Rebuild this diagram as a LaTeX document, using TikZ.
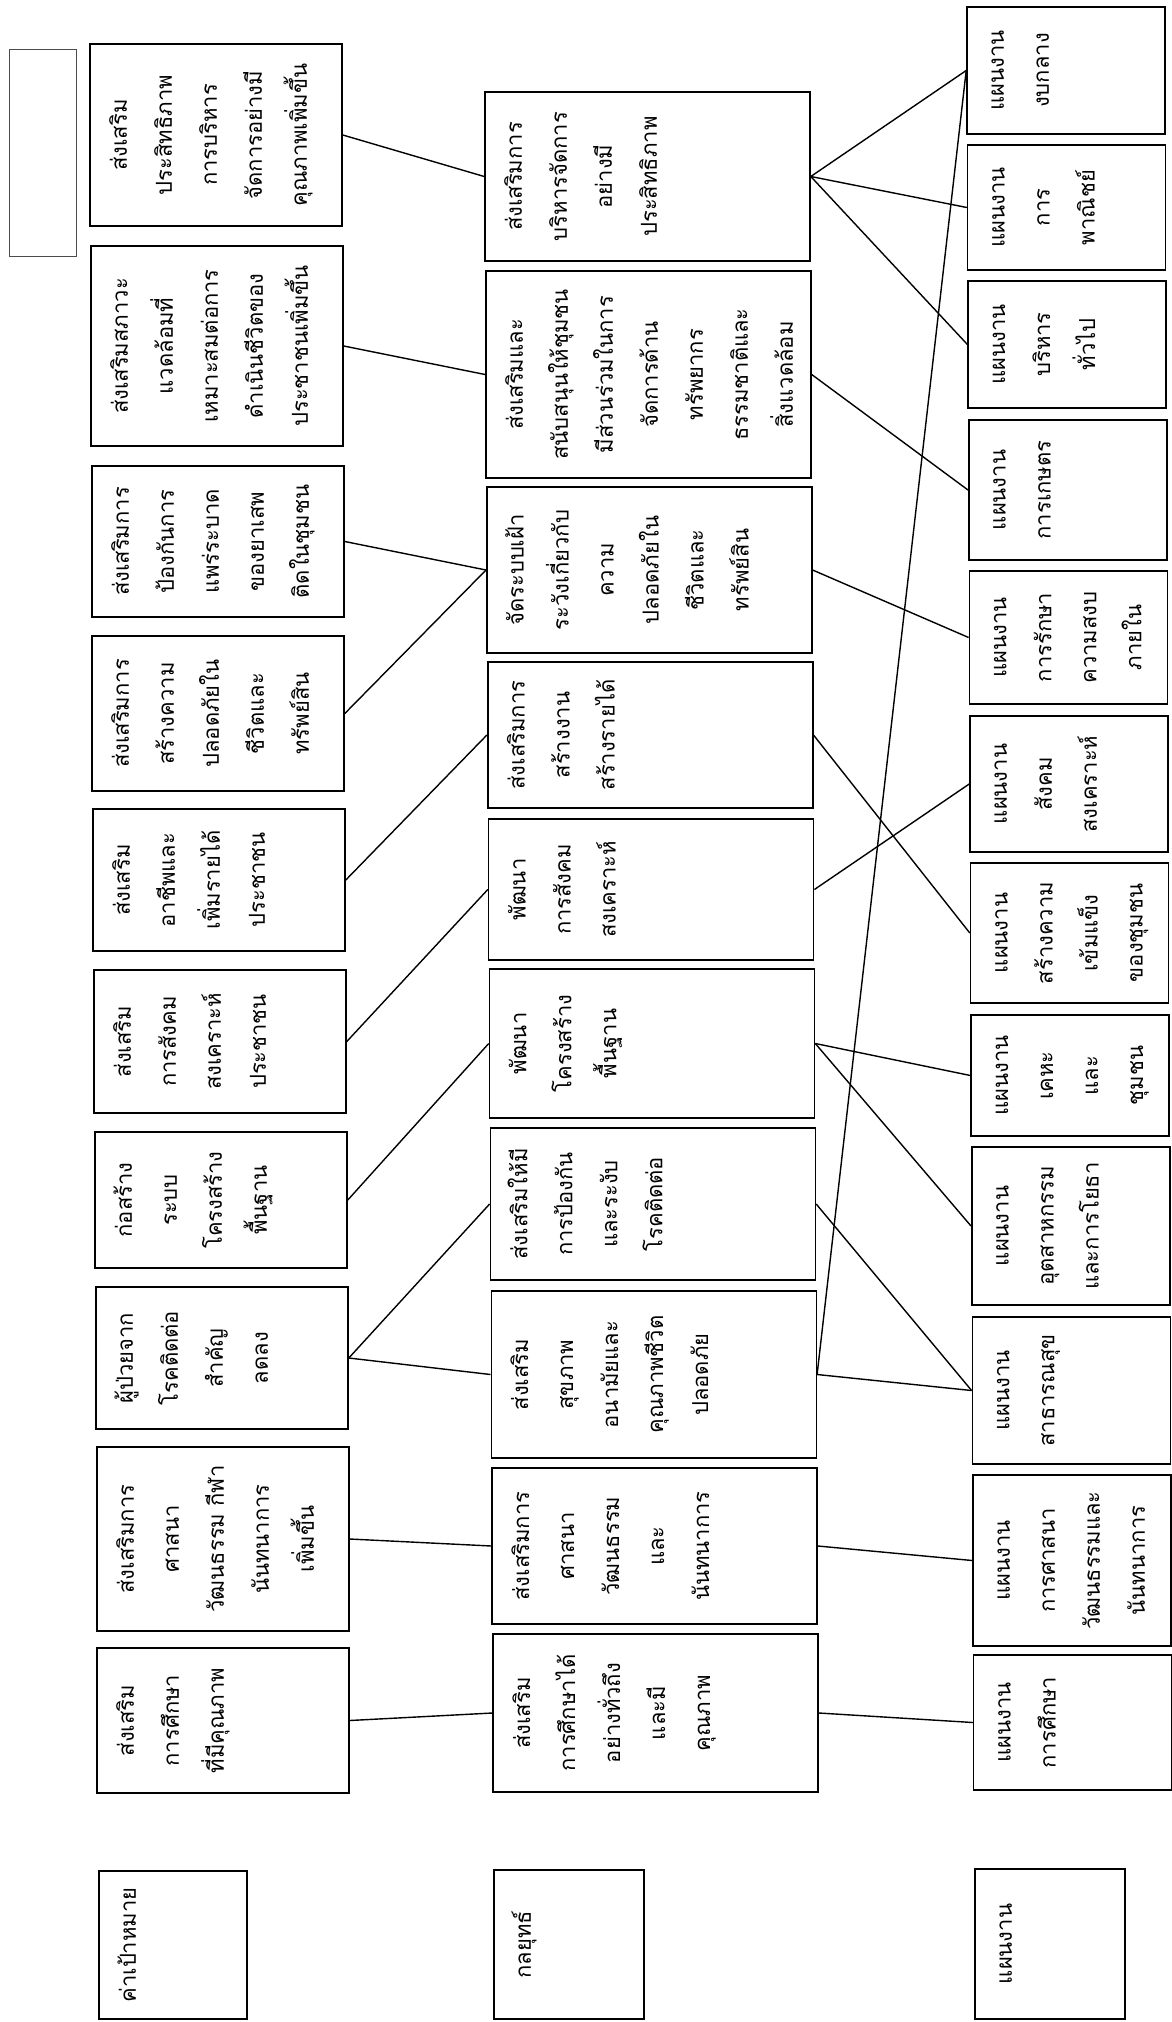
\documentclass[tikz,border=0pt]{standalone}
\usepackage{fontspec}
\newfontfamily\thai[Script=Thai]{Loma}
\tikzset{
  box/.style={draw=black, line width=1.6pt, inner sep=0pt, fill=none},
  txt/.style={rotate=90, anchor=north, text width=300pt, align=center, inner sep=0pt, font=\thai\fontsize{22}{45}\selectfont},
  conn/.style={line width=1.4pt, draw=black},
}
\newcommand\mkbox[5]{\node[box, minimum width=#4pt, minimum height=#5pt] (#1) at (#2,#3) {};}
\newcommand\boxtext[2]{\node[txt] at ([xshift=6pt]#1.west) {\strut #2};}
\begin{document}
\begin{tikzpicture}[x=1pt,y=-1pt]
\useasboundingbox (0,0) rectangle (1172,2022);
% empty box
\node[draw=black!70, line width=1pt, inner sep=0pt, minimum width=67pt, minimum height=207pt] (e0) at (42.5,152.5) {};
% targets
\mkbox{t1}{216}{135}{252}{182}
\mkbox{t2}{217}{346}{252}{200}
\mkbox{t3}{218}{541.5}{252}{151}
\mkbox{t4}{218}{713.5}{252}{155}
\mkbox{t5}{219}{880}{252}{142}
\mkbox{t6}{220}{1041.5}{252}{143}
\mkbox{t7}{221}{1200}{252}{136}
\mkbox{t8}{222}{1358}{252}{142}
\mkbox{t9}{223}{1539}{252}{184}
\mkbox{t10}{223}{1720.5}{252}{145}
% strategies
\mkbox{s1}{647.5}{176.5}{325}{169}
\mkbox{s2}{648.4}{374.5}{325}{207}
\mkbox{s3}{649.3}{570}{325}{166}
\mkbox{s4}{650.2}{735}{325}{146}
\mkbox{s5}{651.1}{889.5}{325}{141}
\mkbox{s6}{652}{1043.5}{325}{149}
\mkbox{s7}{652.9}{1204}{325}{152}
\mkbox{s8}{653.8}{1374.5}{325}{167}
\mkbox{s9}{654.7}{1546}{325}{156}
\mkbox{s10}{655.6}{1713}{325}{158}
% plans
\mkbox{p1}{1066}{70.5}{198}{127}
\mkbox{p2}{1066.6}{207.5}{198}{125}
\mkbox{p3}{1067.2}{344.5}{198}{127}
\mkbox{p4}{1067.8}{490}{198}{140}
\mkbox{p5}{1068.4}{637.5}{198}{133}
\mkbox{p6}{1069}{784}{198}{136}
\mkbox{p7}{1069.6}{933}{198}{140}
\mkbox{p8}{1070.2}{1075.5}{198}{121}
\mkbox{p9}{1070.8}{1226}{198}{158}
\mkbox{p10}{1071.4}{1390.5}{198}{147}
\mkbox{p11}{1072}{1560.5}{198}{171}
\mkbox{p12}{1072.6}{1722.5}{198}{135}
% labels
\mkbox{l1}{173}{1945}{148}{148}
\mkbox{l2}{569}{1944.5}{150}{149}
\mkbox{l3}{1050}{1944}{150}{150}
% texts
\boxtext{t1}{ส่งเสริม\\ประสิทธิภาพ\\การบริหาร\\จัดการอย่างมี\\คุณภาพเพิ่มขึ้น}
\boxtext{t2}{ส่งเสริมสภาวะ\\แวดล้อมที่\\เหมาะสมต่อการ\\ดำเนินชีวิตของ\\ประชาชนเพิ่มขึ้น}
\boxtext{t3}{ส่งเสริมการ\\ป้องกันการ\\แพร่ระบาด\\ของยาเสพ\\ติดในชุมชน}
\boxtext{t4}{ส่งเสริมการ\\สร้างความ\\ปลอดภัยใน\\ชีวิตและ\\ทรัพย์สิน}
\boxtext{t5}{ส่งเสริม\\อาชีพและ\\เพิ่มรายได้\\ประชาชน}
\boxtext{t6}{ส่งเสริม\\การสังคม\\สงเคราะห์\\ประชาชน}
\boxtext{t7}{ก่อสร้าง\\ระบบ\\โครงสร้าง\\พื้นฐาน}
\boxtext{t8}{ผู้ป่วยจาก\\โรคติดต่อ\\สำคัญ\\ลดลง}
\boxtext{t9}{ส่งเสริมการ\\ศาสนา\\วัฒนธรรม กีฬา\\นันทนาการ\\เพิ่มขึ้น}
\boxtext{t10}{ส่งเสริม\\การศึกษา\\ที่มีคุณภาพ}
\boxtext{s1}{ส่งเสริมการ\\บริหารจัดการ\\อย่างมี\\ประสิทธิภาพ}
\boxtext{s2}{ส่งเสริมและ\\สนับสนุนให้ชุมชน\\มีส่วนร่วมในการ\\จัดการด้าน\\ทรัพยากร\\ธรรมชาติและ\\สิ่งแวดล้อม}
\boxtext{s3}{จัดระบบเฝ้า\\ระวังเกี่ยวกับ\\ความ\\ปลอดภัยใน\\ชีวิตและ\\ทรัพย์สิน}
\boxtext{s4}{ส่งเสริมการ\\สร้างงาน\\สร้างรายได้}
\boxtext{s5}{พัฒนา\\การสังคม\\สงเคราะห์}
\boxtext{s6}{พัฒนา\\โครงสร้าง\\พื้นฐาน}
\boxtext{s7}{ส่งเสริมให้มี\\การป้องกัน\\และระงับ\\โรคติดต่อ}
\boxtext{s8}{ส่งเสริม\\สุขภาพ\\อนามัยและ\\คุณภาพชีวิต\\ปลอดภัย}
\boxtext{s9}{ส่งเสริมการ\\ศาสนา\\วัฒนธรรม\\และ\\นันทนาการ}
\boxtext{s10}{ส่งเสริม\\การศึกษาได้\\อย่างทั่วถึง\\และมี\\คุณภาพ}
\boxtext{p1}{แผนงาน\\งบกลาง}
\boxtext{p2}{แผนงาน\\การ\\พาณิชย์}
\boxtext{p3}{แผนงาน\\บริหาร\\ทั่วไป}
\boxtext{p4}{แผนงาน\\การเกษตร}
\boxtext{p5}{แผนงาน\\การรักษา\\ความสงบ\\ภายใน}
\boxtext{p6}{แผนงาน\\สังคม\\สงเคราะห์}
\boxtext{p7}{แผนงาน\\สร้างความ\\เข้มแข็ง\\ของชุมชน}
\boxtext{p8}{แผนงาน\\เคหะ\\และ\\ชุมชน}
\boxtext{p9}{แผนงาน\\อุตสาหกรรม\\และการโยธา}
\boxtext{p10}{แผนงาน\\สาธารณสุข}
\boxtext{p11}{แผนงาน\\การศาสนา\\วัฒนธรรมและ\\นันทนาการ}
\boxtext{p12}{แผนงาน\\การศึกษา}
\boxtext{l1}{ค่าเป้าหมาย}
\boxtext{l2}{กลยุทธ์}
\boxtext{l3}{แผนงาน}
% connectors targets -> strategies
\draw[conn] (t1.east) -- (s1.west);
\draw[conn] (t2.east) -- (s2.west);
\draw[conn] (t3.east) -- (s3.west);
\draw[conn] (t4.east) -- (s3.west);
\draw[conn] (t5.east) -- (s4.west);
\draw[conn] (t6.east) -- (s5.west);
\draw[conn] (t7.east) -- (s6.west);
\draw[conn] (t8.east) -- (s7.west);
\draw[conn] (t8.east) -- (s8.west);
\draw[conn] (t9.east) -- (s9.west);
\draw[conn] (t10.east) -- (s10.west);
% strategies -> plans
\draw[conn] (s1.east) -- (p1.west);
\draw[conn] (s1.east) -- (p2.west);
\draw[conn] (s1.east) -- (p3.west);
\draw[conn] (s2.east) -- (p4.west);
\draw[conn] (s3.east) -- (p5.west);
\draw[conn] (s4.east) -- (p7.west);
\draw[conn] (s5.east) -- (p6.west);
\draw[conn] (s6.east) -- (p8.west);
\draw[conn] (s6.east) -- (p9.west);
\draw[conn] (s7.east) -- (p10.west);
\draw[conn] (s8.east) -- (p10.west);
\draw[conn] (s8.east) -- (p1.west);
\draw[conn] (s9.east) -- (p11.west);
\draw[conn] (s10.east) -- (p12.west);
\end{tikzpicture}
\end{document}
